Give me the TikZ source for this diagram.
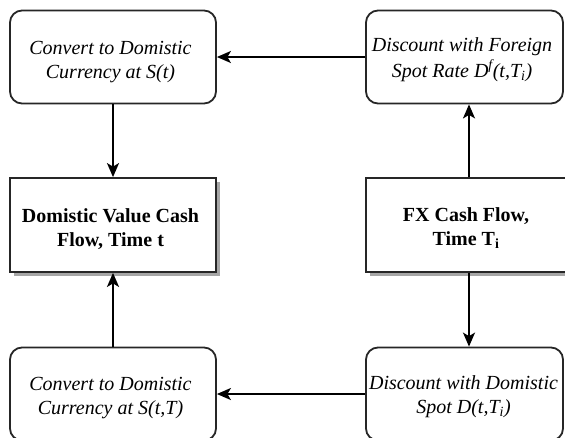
\documentclass[tikz,border=0pt]{standalone}
\usepackage{fontspec}
\setmainfont{Liberation Serif}[Ligatures=TeX]
\newfontfamily\boxfont{Liberation Serif}
\usetikzlibrary{arrows.meta,shadows}
\begin{document}
\begin{tikzpicture}[x=1pt,y=-1pt,
  stepbox/.style={draw=black!85, line width=1.8pt, fill=white, inner sep=0pt, minimum height=93pt},
  roundbox/.style={stepbox, rounded corners=12pt},
  flatbox/.style={stepbox, drop shadow={shadow xshift=4pt, shadow yshift=-4pt, fill=black!35, opacity=1}},
  conn/.style={line width=2pt, -{Stealth[length=14pt, width=12pt, inset=3.5pt]}},
  itext/.style={font=\boxfont\fontsize{20}{24}\selectfont\itshape, align=center, inner sep=0pt},
  btext/.style={font=\boxfont\fontsize{20}{24}\selectfont\bfseries, align=center, inner sep=0pt}
]
\clip (0,0) rectangle (565,437);

% boxes
\node[roundbox, minimum width=206pt] (TL) at (113,57) {};
\node[roundbox, minimum width=197pt] (TR) at (464.5,57) {};
\node[flatbox,  minimum width=206pt, minimum height=94pt] (ML) at (113,225) {};
\node[flatbox,  minimum width=206pt, minimum height=94pt] (MR) at (469,225) {};
\node[roundbox, minimum width=206pt] (BL) at (113,394) {};
\node[roundbox, minimum width=197pt] (BR) at (464.5,394) {};

% labels
\node[itext] (TLt) at (110.5,62) {Convert to Domistic\\Currency at S(t)};
\node[itext] (TRt) at (462,59.5) {Discount with Foreign\\[2pt]Spot Rate D\textsuperscript{f}(t,T\textsubscript{i})};
\node[btext] (MLt) at (110.5,229) {Domistic Value Cash\\Flow, Time t};
\node[btext] (MRt) at (466,228) {FX Cash Flow,\\Time T\textsubscript{i}};
\node[itext] (BLt) at (110.5,398) {Convert to Domistic\\Currency at S(t,T)};
\node[itext] (BRt) at (463.5,397) {Discount with Domistic\\Spot D(t,T\textsubscript{i})};

% connectors
\draw[conn] (TR.west) -- (TL.east);
\draw[conn] (TL.south) -- (ML.north);
\draw[conn] (MR.north) -- (MR.north |- TR.south);
\draw[conn] (MR.south) -- (MR.south |- BR.north);
\draw[conn] (BR.west) -- (BL.east);
\draw[conn] (BL.north) -- (ML.south);
\end{tikzpicture}
\end{document}
